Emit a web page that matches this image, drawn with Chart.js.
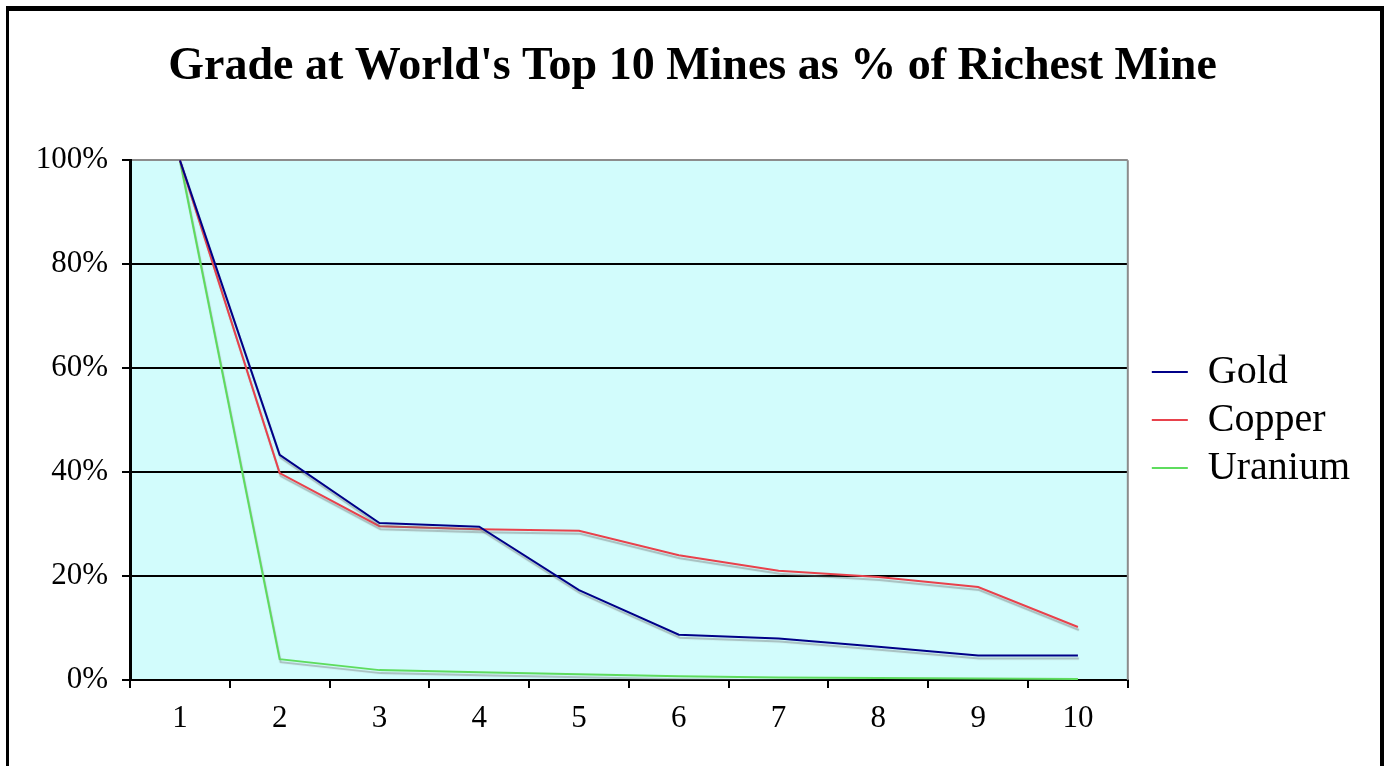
<!DOCTYPE html>
<html>
<head>
<meta charset="utf-8">
<script src="https://cdn.jsdelivr.net/npm/chart.js@4/dist/chart.umd.min.js"></script>
<style>
  html, body { margin: 0; padding: 0; background: #ffffff; }
  canvas { display: block; }
</style>
</head>
<body>
<canvas id="c" width="1385" height="766"></canvas>
<script>
// Mine rank (1 = richest mine)
const mineRanks = ['1', '2', '3', '4', '5', '6', '7', '8', '9', '10'];
// Ore grade at each ranked mine, as % of the richest mine's grade
const goldGrade    = [100, 43.3, 30.2, 29.5, 17.3, 8.7, 8.0, 6.4, 4.7, 4.7];
const copperGrade  = [100, 39.8, 29.6, 29.0, 28.7, 24.0, 21.0, 19.8, 17.9, 10.2];
const uraniumGrade = [100, 4.0, 1.9, 1.5, 1.1, 0.7, 0.5, 0.4, 0.3, 0.2];
const yTicks = [0, 20, 40, 60, 80, 100];

const serif = "'Liberation Serif', 'Times New Roman', serif";
Chart.defaults.font.family = serif;
Chart.defaults.color = '#000000';

// Cyan plot background, grey top/right frame, outer black frame
const framePlugin = {
  id: 'frame',
  beforeDraw(chart) {
    const { ctx, chartArea: a } = chart;
    ctx.save();
    ctx.fillStyle = '#ffffff';
    ctx.fillRect(0, 0, chart.width, chart.height);
    ctx.fillStyle = '#d2fcfc';
    ctx.fillRect(a.left, a.top, a.right - a.left, a.bottom - a.top);
    ctx.restore();
  },
  beforeDatasetsDraw(chart) {
    const { ctx, chartArea: a } = chart;
    ctx.save();
    ctx.strokeStyle = '#8c8c8c';
    ctx.lineWidth = 2;
    ctx.beginPath();
    ctx.moveTo(a.right, a.top);
    ctx.lineTo(a.right, a.bottom);
    ctx.stroke();
    ctx.restore();
  },
  afterDraw(chart) {
    const ctx = chart.ctx;
    ctx.save();
    ctx.fillStyle = '#000000';
    ctx.fillRect(6, 6, 1378, 5);
    ctx.fillRect(6, 6, 3, chart.height - 6);
    ctx.fillRect(1380, 6, 4, chart.height - 6);
    ctx.restore();
  }
};

// Soft grey drop shadow under each series line
const shadowPlugin = {
  id: 'lineShadow',
  beforeDatasetDraw(chart) {
    const ctx = chart.ctx;
    ctx.save();
    ctx.shadowColor = 'rgba(110,110,110,0.45)';
    ctx.shadowOffsetX = 1;
    ctx.shadowOffsetY = 3;
    ctx.shadowBlur = 1;
  },
  afterDatasetDraw(chart) {
    chart.ctx.restore();
  }
};

new Chart(document.getElementById('c'), {
  type: 'line',
  data: {
    labels: mineRanks,
    datasets: [
      { label: 'Gold', data: goldGrade, borderColor: '#000088', backgroundColor: '#000088' },
      { label: 'Copper', data: copperGrade, borderColor: '#e8424c', backgroundColor: '#e8424c' },
      { label: 'Uranium', data: uraniumGrade, borderColor: '#5edc5e', backgroundColor: '#5edc5e' }
    ]
  },
  options: {
    responsive: false,
    animation: false,
    devicePixelRatio: 1,
    layout: { padding: { left: 25, top: 0, right: 25, bottom: 0 } },
    elements: {
      line: { borderWidth: 2, tension: 0 },
      point: { radius: 0 }
    },
    plugins: {
      title: {
        display: true,
        text: "Grade at World's Top 10 Mines as % of Richest Mine",
        font: { family: serif, size: 46, weight: 'bold' },
        color: '#000000',
        padding: { top: 40, bottom: 65 }
      },
      legend: {
        position: 'right',
        align: 'center',
        fullSize: false,
        labels: {
          font: { family: serif, size: 40 },
          color: '#000000',
          boxWidth: 36,
          boxHeight: 2,
          padding: 8,
          generateLabels(chart) {
            const items = Chart.defaults.plugins.legend.labels.generateLabels(chart);
            items.forEach(it => { it.lineWidth = 0; });
            return items;
          }
        }
      },
      tooltip: { enabled: false }
    },
    scales: {
      x: {
        offset: true,
        grid: {
          offset: true,
          drawOnChartArea: false,
          drawTicks: true,
          tickLength: 8,
          color: '#000000',
          lineWidth: 2
        },
        border: { display: true, color: '#000000', width: 2 },
        ticks: { font: { family: serif, size: 31 }, color: '#000000', padding: 12 },
        afterFit(scale) { scale.height = 86; }
      },
      y: {
        min: 0,
        max: 100,
        afterBuildTicks(scale) { scale.ticks = yTicks.map(v => ({ value: v })); },
        grid: {
          color: ctx => (ctx.tick && ctx.tick.value === 100 ? '#8c8c8c' : '#000000'),
          tickColor: '#000000',
          lineWidth: 2,
          tickLength: 8
        },
        border: { display: true, color: '#000000', width: 3 },
        ticks: {
          font: { family: serif, size: 31 },
          color: '#000000',
          padding: 14,
          callback: v => v + '%'
        },
        afterFit(scale) { scale.width = 105; }
      },
      legendGap: {
        type: 'linear',
        position: 'right',
        display: true,
        grid: { display: false },
        border: { display: false },
        ticks: { display: false },
        afterFit(scale) { scale.width = 16; }
      }
    }
  },
  plugins: [framePlugin, shadowPlugin]
});
</script>
</body>
</html>
